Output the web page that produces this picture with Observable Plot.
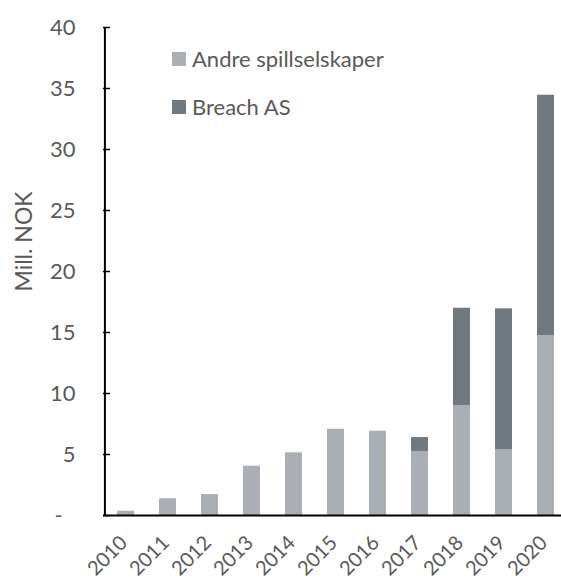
<!DOCTYPE html>
<html>
<head>
<meta charset="utf-8">
<script src="https://cdn.jsdelivr.net/npm/d3@7"></script>
<script src="https://cdn.jsdelivr.net/npm/@observablehq/plot@0.6"></script>
<style>
  html, body { margin: 0; padding: 0; background: #fff; overflow: hidden; }
  #wrap { position: relative; width: 561px; height: 579px; }
  .lg { position: absolute; left: 0; top: 0; font-family: Lato, sans-serif; font-size: 22px; color: #595959; }
  .lg .item { position: absolute; left: 172px; white-space: nowrap; display: flex; align-items: center; line-height: 1; }
  .lg .sw { display: inline-block; width: 14px; height: 14px; margin-right: 6px; }
</style>
</head>
<body>
<div id="wrap"></div>
<script>
const years = ["2010","2011","2012","2013","2014","2015","2016","2017","2018","2019","2020"];
const andre = [0.35, 1.37, 1.72, 4.04, 5.14, 7.07, 6.91, 5.25, 8.99, 5.41, 14.75];
const breach = [0, 0, 0, 0, 0, 0, 0, 1.14, 8.0, 11.53, 19.7];
const seriesNames = ["Andre spillselskaper", "Breach AS"];
const seriesColors = ["#a9afb5", "#717980"];
const yTicks = [0, 5, 10, 15, 20, 25, 30, 35, 40];
const yTitle = "Mill. NOK";

const rows = [];
years.forEach((y, i) => {
  rows.push({year: y, series: seriesNames[0], value: andre[i]});
  rows.push({year: y, series: seriesNames[1], value: breach[i]});
});

const W = 561, ML = 103, MR = -6;
const step = (W - ML - MR) / (years.length - 0.6 + 0.6);
const textColor = "#595959";
const chart = Plot.plot({
  width: W,
  height: 579,
  marginLeft: ML,
  marginRight: MR,
  marginTop: 27,
  marginBottom: 64,
  style: {fontFamily: "Lato, sans-serif", fontSize: "22px", color: textColor, background: "#fff"},
  x: {domain: years, paddingInner: 0.6, paddingOuter: 0.3, label: null},
  y: {domain: [0, 40], label: null},
  color: {domain: seriesNames, range: seriesColors},
  marks: [
    Plot.barY(rows, Plot.stackY({x: "year", y: "value", fill: "series", order: seriesNames})),
    Plot.axisY(yTicks, {tickSize: 7, text: null, dx: 7, stroke: "#000", strokeWidth: 1.5}),
    Plot.axisY(yTicks, {tickSize: 0, tickPadding: 28, tickFormat: d => d === 0 ? "-\u2007" : String(d), fill: textColor, label: null}),
    Plot.axisX({tickSize: 0, tickRotate: -45, tickPadding: 24, dx: -2, fill: textColor, fontSize: 20, label: null}),
    Plot.ruleX([years[0]], {dx: -step / 2, stroke: "#000", strokeWidth: 2}),
    Plot.ruleY([0], {stroke: "#000", strokeWidth: 2}),
    Plot.text([yTitle], {frameAnchor: "left", textAnchor: "middle", lineAnchor: "middle", dx: -79, dy: -30, rotate: -90, fill: textColor, fontSize: 23})
  ]
});
const wrap = document.getElementById("wrap");
wrap.appendChild(chart);

const legend = document.createElement("div");
legend.className = "lg";
const tops = [48, 96];
seriesNames.forEach((name, i) => {
  const item = document.createElement("div");
  item.className = "item";
  item.style.top = tops[i] + "px";
  const sw = document.createElement("span");
  sw.className = "sw";
  sw.style.background = seriesColors[i];
  item.appendChild(sw);
  item.appendChild(document.createTextNode(name));
  legend.appendChild(item);
});
wrap.appendChild(legend);
</script>
</body>
</html>
